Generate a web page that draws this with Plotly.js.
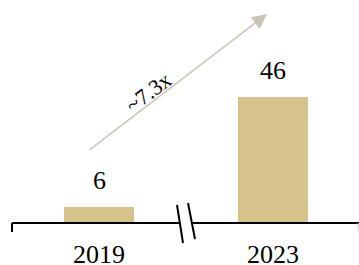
<!DOCTYPE html>
<html>
<head>
<meta charset="utf-8">
<script src="https://cdn.plot.ly/plotly-3.0.1.min.js"></script>
<style>html,body{margin:0;padding:0;background:#fff;}#chart{width:359px;height:265px;}</style>
</head>
<body>
<div id="chart"></div>
<script>
// Data
const years = ["2019", "2023"];
const values = [6, 46];
const growthLabel = "~7.3x";

const barColor = "#d5c38b";
const arrowColor = "#cbc5b8";
const fontFam = "Liberation Serif";

const xIdx = years.map((_, i) => i);
const pxPerX = 174, pxPerY = 2.74, x0px = 99, y0px = 223;
const W = 359, H = 265;
const px2x = p => (p - x0px) / pxPerX;
const py2y = p => (y0px - p) / pxPerY;

const trace = {
  type: "bar",
  x: xIdx,
  y: values,
  width: 70 / pxPerX,
  marker: {color: barColor},
  hoverinfo: "skip"
};

const annotations = [];
xIdx.forEach((xi, i) => {
  annotations.push({
    x: xi, y: values[i], xref: "x", yref: "y",
    text: String(values[i]), showarrow: false,
    yanchor: "bottom", yshift: 10,
    font: {family: fontFam, size: 26, color: "#000"}
  });
  annotations.push({
    x: xi, y: 0, xref: "x", yref: "y",
    text: years[i], showarrow: false,
    yanchor: "top", yshift: -15,
    font: {family: fontFam, size: 26, color: "#000"}
  });
});
annotations.push({
  x: px2x(267), y: py2y(14), xref: "x", yref: "y",
  ax: px2x(88), ay: py2y(151), axref: "x", ayref: "y",
  text: "", showarrow: true, arrowhead: 2, arrowsize: 2, arrowwidth: 1.5,
  arrowcolor: arrowColor
});
annotations.push({
  x: px2x(148), y: py2y(92), xref: "x", yref: "y",
  text: growthLabel, showarrow: false, textangle: -37,
  font: {family: fontFam, size: 22, color: "#000"}
});

const black = {color: "#000", width: 2};
const mid = 0.5;
const shapes = [
  {type: "line", xref: "x", yref: "y", x0: px2x(12), x1: px2x(180), y0: 0, y1: 0, line: black},
  {type: "line", xref: "x", yref: "y", x0: px2x(191.5), x1: px2x(360), y0: 0, y1: 0, line: black},
  {type: "line", xref: "x", yref: "y", x0: px2x(12), x1: px2x(12), y0: 0, y1: py2y(232), line: black},
  {type: "line", xref: "x", yref: "y", x0: px2x(358), x1: px2x(358), y0: 0, y1: py2y(231), line: {color: "#cccccc", width: 1}},
  {type: "line", xref: "x", yref: "y", x0: mid + px2x(177) - px2x(186), y0: py2y(205), x1: mid + px2x(183) - px2x(186), y1: py2y(243), line: black},
  {type: "line", xref: "x", yref: "y", x0: mid + px2x(188) - px2x(186), y0: py2y(203), x1: mid + px2x(195) - px2x(186), y1: py2y(239), line: black}
];

const layout = {
  width: W, height: H,
  margin: {l: 0, r: 0, t: 0, b: 0},
  paper_bgcolor: "#fff", plot_bgcolor: "#fff",
  showlegend: false,
  xaxis: {visible: false, range: [px2x(0), px2x(W)], fixedrange: true},
  yaxis: {visible: false, range: [py2y(H), py2y(0)], fixedrange: true},
  annotations: annotations,
  shapes: shapes,
  bargap: 0
};

Plotly.newPlot("chart", [trace], layout, {displayModeBar: false, staticPlot: true});
</script>
</body>
</html>
